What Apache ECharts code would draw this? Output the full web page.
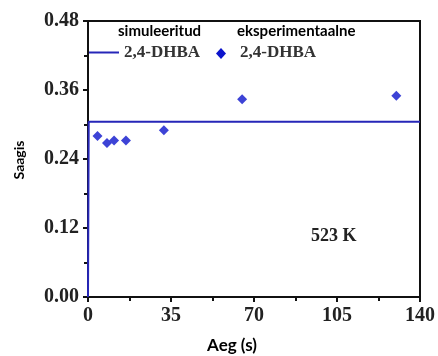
<!DOCTYPE html>
<html>
<head>
<meta charset="utf-8">
<script src="https://cdn.jsdelivr.net/npm/echarts@6/dist/echarts.min.js"></script>
<style>
  html, body { margin: 0; padding: 0; background: #fff; }
  #chart { width: 438px; height: 356px; }
</style>
</head>
<body>
<div id="chart"></div>
<script>
// Simulated yield curve (time in s, yield)
const simTime = [0, 0.3, 140];
const simYield = [0, 0.305, 0.305];

// Experimental yield points
const expTime = [4, 8, 11, 16, 32, 65, 130];
const expYield = [0.280, 0.268, 0.272, 0.272, 0.290, 0.344, 0.350];

// Axis ticks
const xTicks = [0, 35, 70, 105, 140];
const yTicks = [0.00, 0.12, 0.24, 0.36, 0.48];

const serif = '"Liberation Serif", "Times New Roman", serif';
const sans = 'Lato, "Open Sans", sans-serif';
const lineColor = '#2626b8';
const dotColor = '#0c14cc';
const ink = '#111';

const chart = echarts.init(document.getElementById('chart'), null, { renderer: 'canvas' });

const grid = { left: 88, right: 16, top: 21, bottom: 59 };

function axisStyle() {
  return {
    axisLine: { show: true, onZero: false, lineStyle: { color: ink, width: 2 } },
    axisTick: { show: true, inside: false, length: 5, lineStyle: { color: ink, width: 2 } },
    minorTick: { show: true, splitNumber: 2, length: 4, lineStyle: { color: ink, width: 2 } },
    splitLine: { show: false },
    minorSplitLine: { show: false }
  };
}

chart.setOption({
  animation: false,
  backgroundColor: '#fff',
  grid: Object.assign({ show: true, borderColor: ink, borderWidth: 2, containLabel: false }, grid),
  xAxis: Object.assign({
    type: 'value',
    min: xTicks[0],
    max: xTicks[xTicks.length - 1],
    interval: xTicks[1] - xTicks[0],
    axisLabel: { color: '#222', fontFamily: serif, fontWeight: 'bold', fontSize: 20, margin: 9 }
  }, axisStyle()),
  yAxis: Object.assign({
    type: 'value',
    min: yTicks[0],
    max: yTicks[yTicks.length - 1],
    interval: yTicks[1] - yTicks[0],
    axisLabel: {
      color: '#222', fontFamily: serif, fontWeight: 'bold', fontSize: 20, margin: 9,
      formatter: v => v.toFixed(2)
    }
  }, axisStyle()),
  series: [
    {
      name: 'simuleeritud 2,4-DHBA',
      type: 'line',
      data: simTime.map((t, i) => [t, simYield[i]]),
      showSymbol: false,
      lineStyle: { color: lineColor, width: 2 },
      z: 3
    },
    {
      name: 'eksperimentaalne 2,4-DHBA',
      type: 'scatter',
      data: expTime.map((t, i) => [t, expYield[i]]),
      symbol: 'diamond',
      symbolSize: 10,
      itemStyle: { color: dotColor },
      z: 4
    }
  ],
  graphic: [
    // legend: simulated
    { type: 'text', left: 118, top: 24, style: { text: 'simuleeritud', font: 'bold 15px ' + sans, fill: '#000' } },
    { type: 'line', shape: { x1: 89, y1: 52.5, x2: 119, y2: 52.5 }, style: { stroke: lineColor, lineWidth: 2 } },
    { type: 'text', left: 124, top: 44, style: { text: '2,4-DHBA', font: 'bold 17px ' + serif, fill: '#333' } },
    // legend: experimental
    { type: 'text', left: 237, top: 24, style: { text: 'eksperimentaalne', font: 'bold 15px ' + sans, fill: '#000' } },
    { type: 'polygon', shape: { points: [[221, 48], [226, 53.5], [221, 59], [216, 53.5]] }, style: { fill: dotColor } },
    { type: 'text', left: 240, top: 44, style: { text: '2,4-DHBA', font: 'bold 17px ' + serif, fill: '#333' } },
    // temperature annotation
    { type: 'text', left: 311, top: 227, style: { text: '523 K', font: 'bold 18px ' + serif, fill: '#222' } },
    // axis titles
    { type: 'text', x: 232, y: 346, style: { text: 'Aeg (s)', font: 'bold 17px ' + sans, fill: '#000', align: 'center', verticalAlign: 'middle' } },
    { type: 'text', x: 19, y: 160, rotation: Math.PI / 2, style: { text: 'Saagis', font: 'bold 14px ' + sans, fill: '#000', align: 'center', verticalAlign: 'middle' } }
  ]
});
</script>
</body>
</html>
